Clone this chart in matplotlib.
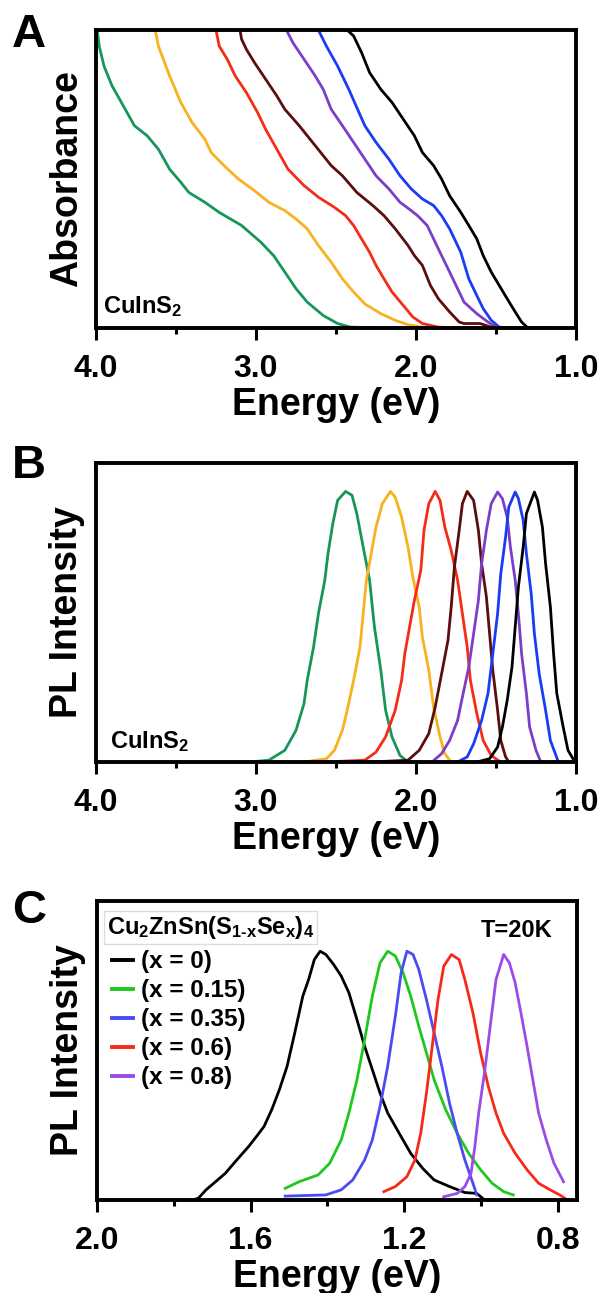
import matplotlib
matplotlib.use("Agg")
import matplotlib.pyplot as plt
from matplotlib.ticker import MultipleLocator, FormatStrFormatter

plt.rcParams["font.family"] = ["Liberation Sans", "DejaVu Sans"]
plt.rcParams["font.weight"] = "bold"
plt.rcParams["mathtext.fontset"] = "custom"
plt.rcParams["mathtext.rm"] = "Liberation Sans:bold"
plt.rcParams["mathtext.it"] = "Liberation Sans:bold"
plt.rcParams["mathtext.bf"] = "Liberation Sans:bold"

# ── Panel A: absorbance (arb. units, 1 = top of frame) ───────────────────────
abs_black_e = [2.43, 2.39, 2.34, 2.29, 2.22, 2.15, 2.08, 2.01, 1.96, 1.89, 1.84, 1.79,
               1.72, 1.67, 1.62, 1.58, 1.53, 1.48, 1.43, 1.38, 1.34, 1.30, 1.14]
abs_black_a = [1.0, 0.980, 0.924, 0.857, 0.801, 0.757, 0.701, 0.645, 0.589, 0.545, 0.500,
               0.444, 0.388, 0.344, 0.299, 0.243, 0.188, 0.143, 0.098, 0.054, 0.020, 0.0, 0.0]
abs_blue_e = [2.61, 2.56, 2.49, 2.42, 2.37, 2.32, 2.25, 2.17, 2.10, 2.03, 1.96, 1.89,
              1.84, 1.79, 1.72, 1.67, 1.62, 1.58, 1.53, 1.48, 1.41, 1.31]
abs_blue_a = [1.0, 0.946, 0.879, 0.801, 0.740, 0.679, 0.623, 0.567, 0.511, 0.467, 0.433,
              0.411, 0.377, 0.333, 0.254, 0.165, 0.109, 0.065, 0.026, 0.003, 0.0, 0.0]
abs_purple_e = [2.81, 2.77, 2.70, 2.63, 2.58, 2.53, 2.46, 2.39, 2.32, 2.25, 2.17, 2.10,
                2.03, 1.99, 1.93, 1.89, 1.84, 1.79, 1.74, 1.70, 1.62, 1.55, 1.50, 1.46]
abs_purple_a = [1.0, 0.958, 0.902, 0.846, 0.801, 0.734, 0.679, 0.623, 0.567, 0.511, 0.467,
                0.422, 0.394, 0.377, 0.344, 0.299, 0.243, 0.188, 0.132, 0.087, 0.048,
                0.020, 0.003, 0.0]
abs_brown_e = [3.10, 3.09, 3.06, 3.01, 2.94, 2.87, 2.82, 2.73, 2.63, 2.53, 2.46, 2.37,
               2.27, 2.20, 2.13, 2.05, 2.01, 1.96, 1.91, 1.86, 1.79, 1.73, 1.70, 1.60,
               1.53, 1.48]
abs_brown_a = [1.0, 0.969, 0.935, 0.891, 0.835, 0.779, 0.734, 0.679, 0.612, 0.545, 0.511,
               0.455, 0.411, 0.377, 0.333, 0.277, 0.243, 0.210, 0.143, 0.098, 0.054,
               0.020, 0.015, 0.015, 0.003, 0.0]
abs_red_e = [3.25, 3.23, 3.18, 3.13, 3.06, 2.99, 2.94, 2.87, 2.80, 2.70, 2.61, 2.51,
             2.44, 2.39, 2.34, 2.29, 2.25, 2.20, 2.15, 2.08, 2.02, 1.96, 1.86, 1.72, 1.53]
abs_red_a = [1.0, 0.946, 0.902, 0.846, 0.790, 0.723, 0.667, 0.600, 0.533, 0.478, 0.439,
             0.405, 0.377, 0.344, 0.299, 0.254, 0.210, 0.165, 0.121, 0.076, 0.037,
             0.015, 0.003, 0.0, 0.0]
abs_orange_e = [3.63, 3.61, 3.54, 3.47, 3.40, 3.32, 3.28, 3.20, 3.11, 3.01, 2.92, 2.82,
                2.75, 2.68, 2.61, 2.53, 2.46, 2.39, 2.32, 2.22, 2.13, 2.05, 1.96, 1.89, 1.50]
abs_orange_a = [1.0, 0.946, 0.846, 0.757, 0.690, 0.634, 0.589, 0.545, 0.500, 0.461, 0.422,
                0.394, 0.366, 0.333, 0.277, 0.221, 0.165, 0.121, 0.081, 0.048, 0.026,
                0.011, 0.003, 0.0, 0.0]
abs_green_e = [3.99, 3.98, 3.95, 3.90, 3.83, 3.76, 3.68, 3.61, 3.54, 3.47, 3.42, 3.32,
               3.23, 3.09, 2.97, 2.89, 2.82, 2.75, 2.68, 2.58, 2.49, 2.41, 2.20, 1.98]
abs_green_a = [0.991, 0.946, 0.879, 0.813, 0.746, 0.679, 0.645, 0.600, 0.533, 0.489, 0.455,
               0.422, 0.388, 0.344, 0.288, 0.243, 0.188, 0.132, 0.087, 0.042, 0.015,
               0.003, 0.0, 0.0]

# ── Panel B: PL of CuInS2 (arb. units) ───────────────────────────────────────
pl_green_e = [3.04, 2.92, 2.82, 2.75, 2.70, 2.68, 2.64, 2.61, 2.57, 2.55, 2.52, 2.49,
              2.44, 2.40, 2.37, 2.33, 2.29, 2.26, 2.22, 2.19, 2.15, 2.10, 2.05, 2.01]
pl_green_i = [0.0, 0.006, 0.039, 0.106, 0.195, 0.273, 0.385, 0.496, 0.608, 0.697, 0.797,
              0.875, 0.905, 0.892, 0.831, 0.719, 0.608, 0.452, 0.307, 0.173, 0.084,
              0.022, 0.0, 0.0]
pl_orange_e = [2.70, 2.56, 2.51, 2.46, 2.43, 2.39, 2.35, 2.33, 2.31, 2.28, 2.25, 2.21,
               2.16, 2.13, 2.09, 2.05, 2.02, 1.98, 1.96, 1.92, 1.89, 1.85, 1.82, 1.79]
pl_orange_i = [0.0, 0.011, 0.039, 0.106, 0.173, 0.273, 0.385, 0.496, 0.608, 0.697, 0.786,
               0.864, 0.905, 0.886, 0.819, 0.719, 0.619, 0.518, 0.418, 0.307, 0.184,
               0.084, 0.028, 0.006]
pl_red_e = [2.57, 2.32, 2.25, 2.19, 2.13, 2.09, 2.07, 2.04, 2.01, 1.97, 1.95, 1.92,
            1.88, 1.85, 1.82, 1.78, 1.74, 1.71, 1.68, 1.66, 1.62, 1.58, 1.53, 1.48]
pl_red_i = [0.0, 0.006, 0.033, 0.084, 0.173, 0.273, 0.362, 0.452, 0.541, 0.641, 0.775,
            0.864, 0.905, 0.875, 0.786, 0.708, 0.608, 0.496, 0.385, 0.273, 0.162, 0.072,
            0.022, 0.003]
pl_brown_e = [2.28, 2.05, 1.98, 1.92, 1.88, 1.84, 1.80, 1.78, 1.76, 1.73, 1.71, 1.68,
              1.64, 1.61, 1.59, 1.56, 1.54, 1.52, 1.49, 1.47, 1.44, 1.42]
pl_brown_i = [0.0, 0.006, 0.039, 0.095, 0.184, 0.295, 0.407, 0.518, 0.652, 0.775, 0.864,
              0.905, 0.875, 0.775, 0.664, 0.552, 0.429, 0.307, 0.173, 0.072, 0.017, 0.0]
pl_purple_e = [1.90, 1.84, 1.79, 1.74, 1.71, 1.67, 1.64, 1.61, 1.59, 1.56, 1.53, 1.49,
               1.46, 1.43, 1.41, 1.38, 1.36, 1.34, 1.31, 1.29, 1.25, 1.22]
pl_purple_i = [0.0, 0.028, 0.072, 0.139, 0.217, 0.318, 0.429, 0.541, 0.663, 0.775, 0.864,
               0.903, 0.881, 0.819, 0.719, 0.608, 0.496, 0.362, 0.229, 0.117, 0.039, 0.0]
pl_blue_e = [1.74, 1.68, 1.64, 1.59, 1.55, 1.52, 1.49, 1.47, 1.44, 1.42, 1.38, 1.36,
             1.33, 1.31, 1.28, 1.26, 1.23, 1.19, 1.16, 1.11]
pl_blue_i = [0.0, 0.017, 0.061, 0.139, 0.229, 0.362, 0.496, 0.630, 0.753, 0.853, 0.903,
             0.881, 0.808, 0.697, 0.563, 0.429, 0.295, 0.173, 0.072, 0.0]
pl_black_e = [1.62, 1.54, 1.49, 1.46, 1.43, 1.40, 1.38, 1.36, 1.33, 1.31, 1.26, 1.24,
              1.21, 1.19, 1.16, 1.14, 1.12, 1.08, 1.05, 1.01]
pl_black_i = [0.0, 0.011, 0.050, 0.117, 0.206, 0.318, 0.452, 0.585, 0.719, 0.831, 0.903,
              0.875, 0.786, 0.663, 0.518, 0.362, 0.229, 0.117, 0.039, 0.003]

# ── Panel C: PL of Cu2ZnSn(S1-xSex)4 at 20 K ────────────────────────────────
czts_labels = ["(x = 0)", "(x = 0.15)", "(x = 0.35)", "(x = 0.6)", "(x = 0.8)"]
czts_x0_e = [1.751, 1.736, 1.716, 1.696, 1.666, 1.636, 1.605, 1.585, 1.565, 1.545, 1.525,
             1.505, 1.485, 1.464, 1.449, 1.434, 1.419, 1.404, 1.384, 1.364, 1.344, 1.323,
             1.303, 1.283, 1.263, 1.243, 1.213, 1.183, 1.152, 1.122, 1.082, 1.042, 1.011,
             0.996]
czts_x0_i = [0.0, 0.006, 0.034, 0.056, 0.089, 0.134, 0.179, 0.212, 0.246, 0.302, 0.369,
             0.447, 0.559, 0.682, 0.737, 0.804, 0.832, 0.821, 0.788, 0.749, 0.693, 0.603,
             0.514, 0.436, 0.358, 0.291, 0.223, 0.156, 0.106, 0.067, 0.045, 0.025, 0.022,
             0.006]
czts_x15_e = [1.510, 1.474, 1.424, 1.394, 1.364, 1.344, 1.323, 1.303, 1.283, 1.263, 1.243,
              1.223, 1.203, 1.183, 1.162, 1.142, 1.122, 1.092, 1.062, 1.032, 1.001, 0.971,
              0.941, 0.916]
czts_x15_i = [0.039, 0.061, 0.084, 0.123, 0.201, 0.291, 0.402, 0.536, 0.682, 0.793, 0.832,
              0.816, 0.760, 0.682, 0.581, 0.492, 0.402, 0.302, 0.223, 0.156, 0.101, 0.056,
              0.028, 0.017]
czts_x35_e = [1.510, 1.404, 1.364, 1.334, 1.303, 1.283, 1.263, 1.243, 1.223, 1.208, 1.193,
              1.177, 1.162, 1.142, 1.122, 1.102, 1.082, 1.062, 1.042, 1.021, 1.011]
czts_x35_i = [0.013, 0.017, 0.034, 0.067, 0.134, 0.201, 0.313, 0.447, 0.615, 0.760, 0.832,
              0.821, 0.771, 0.670, 0.559, 0.447, 0.324, 0.223, 0.134, 0.056, 0.017]
czts_x60_e = [1.253, 1.223, 1.193, 1.172, 1.157, 1.142, 1.127, 1.112, 1.097, 1.077, 1.057,
              1.042, 1.021, 1.001, 0.981, 0.961, 0.941, 0.911, 0.880, 0.850, 0.820, 0.795,
              0.775]
czts_x60_i = [0.028, 0.045, 0.078, 0.134, 0.223, 0.358, 0.514, 0.670, 0.782, 0.821, 0.804,
              0.737, 0.626, 0.492, 0.380, 0.291, 0.223, 0.156, 0.101, 0.056, 0.034, 0.017,
              0.0]
czts_x80_e = [1.097, 1.062, 1.042, 1.026, 1.016, 1.006, 0.991, 0.976, 0.961, 0.941, 0.926,
              0.911, 0.896, 0.880, 0.865, 0.850, 0.830, 0.810, 0.785]
czts_x80_i = [0.011, 0.022, 0.045, 0.089, 0.179, 0.291, 0.425, 0.581, 0.737, 0.821, 0.793,
              0.726, 0.626, 0.514, 0.402, 0.291, 0.201, 0.123, 0.061]

# Series colours
AB_COLORS = {"black": "#000000", "blue": "#1a3cf5", "purple": "#7b3fc7",
             "brown": "#5c0e0e", "red": "#f52c16", "orange": "#f7b21e",
             "green": "#17965a"}
C_COLORS = ["#000000", "#1ec81e", "#4b4bf2", "#f52a1a", "#9a4de6"]

LW = 2.0
TICK_FS = 23
LABEL_FS = 27


def style_axis(ax, major, minor, xlim):
    ax.set_xlim(*xlim)
    ax.set_ylim(0, 1)
    ax.set_yticks([])
    ax.xaxis.set_major_locator(MultipleLocator(major))
    ax.xaxis.set_minor_locator(MultipleLocator(minor))
    ax.xaxis.set_major_formatter(FormatStrFormatter("%.1f"))
    ax.tick_params(axis="x", which="major", direction="out", length=8.5, width=2.2,
                   pad=10, labelsize=TICK_FS)
    ax.tick_params(axis="x", which="minor", direction="out", length=4, width=2.2)
    for sp in ax.spines.values():
        sp.set_linewidth(2.8)
    ax.set_xlabel("Energy (eV)", fontsize=LABEL_FS, fontweight="bold")
    ax.xaxis.set_label_coords(0.5, -59 / 298)
    ax.yaxis.set_label_coords(-0.023, 0.5)


fig = plt.figure(figsize=(6.01, 12.93), dpi=100)
ax_a = fig.add_axes([96 / 601, 965 / 1293, 480 / 601, 298 / 1293])
ax_b = fig.add_axes([96 / 601, 531 / 1293, 480 / 601, 299 / 1293])
ax_c = fig.add_axes([97 / 601, 93 / 1293, 480 / 601, 299 / 1293])

# ── A ──
for e, a, c in [(abs_black_e, abs_black_a, "black"), (abs_blue_e, abs_blue_a, "blue"),
                (abs_purple_e, abs_purple_a, "purple"), (abs_brown_e, abs_brown_a, "brown"),
                (abs_red_e, abs_red_a, "red"), (abs_orange_e, abs_orange_a, "orange"),
                (abs_green_e, abs_green_a, "green")]:
    ax_a.plot(e, a, color=AB_COLORS[c], lw=LW)
style_axis(ax_a, 1.0, 0.5, (4.0, 1.0))
ax_a.set_ylabel("Absorbance", fontsize=LABEL_FS, fontweight="bold")
ax_a.text(0.015, 0.050, r"CuInS$_2$", transform=ax_a.transAxes, fontsize=17,
          fontweight="bold", va="baseline")

# ── B ──
for e, i, c in [(pl_green_e, pl_green_i, "green"), (pl_orange_e, pl_orange_i, "orange"),
                (pl_red_e, pl_red_i, "red"), (pl_brown_e, pl_brown_i, "brown"),
                (pl_purple_e, pl_purple_i, "purple"), (pl_blue_e, pl_blue_i, "blue"),
                (pl_black_e, pl_black_i, "black")]:
    ax_b.plot(e, i, color=AB_COLORS[c], lw=LW)
style_axis(ax_b, 1.0, 0.5, (4.0, 1.0))
ax_b.set_ylabel("PL Intensity", fontsize=LABEL_FS, fontweight="bold")
ax_b.text(0.029, 0.047, r"CuInS$_2$", transform=ax_b.transAxes, fontsize=17,
          fontweight="bold", va="baseline")

# ── C ──
czts_e = [czts_x0_e, czts_x15_e, czts_x35_e, czts_x60_e, czts_x80_e]
czts_i = [czts_x0_i, czts_x15_i, czts_x35_i, czts_x60_i, czts_x80_i]
for e, i, c, lab in zip(czts_e, czts_i, C_COLORS, czts_labels):
    ax_c.plot(e, i, color=c, lw=LW, label=lab)
style_axis(ax_c, 0.4, 0.2, (2.0, 0.75))
ax_c.set_ylabel("PL Intensity", fontsize=LABEL_FS, fontweight="bold")
ax_c.text(0.021, 0.890, r"Cu$_2$ZnSn(S$_{1\text{-}x}$Se$_x$)$_4$", transform=ax_c.transAxes,
          fontsize=17, fontweight="bold", va="baseline",
          bbox=dict(boxstyle="square,pad=0.12", facecolor="white", edgecolor="#dcdcdc",
                    linewidth=1.0))
ax_c.text(0.948, 0.880, "T=20K", transform=ax_c.transAxes, fontsize=17,
          fontweight="bold", ha="right", va="baseline")
leg = ax_c.legend(loc="upper left", bbox_to_anchor=(0.031, 0.836), frameon=False,
                  fontsize=17.5, handlelength=0.86, handletextpad=0.33,
                  labelspacing=0.25, borderpad=0, borderaxespad=0)
for line in leg.get_lines():
    line.set_linewidth(2.8)

# panel letters
for letter, base in [("A", 47), ("B", 478), ("C", 923)]:
    fig.text(12 / 601, (1293 - base) / 1293, letter, fontsize=34, fontweight="bold",
             va="baseline", ha="left")

fig.savefig("out.png", dpi=100)
